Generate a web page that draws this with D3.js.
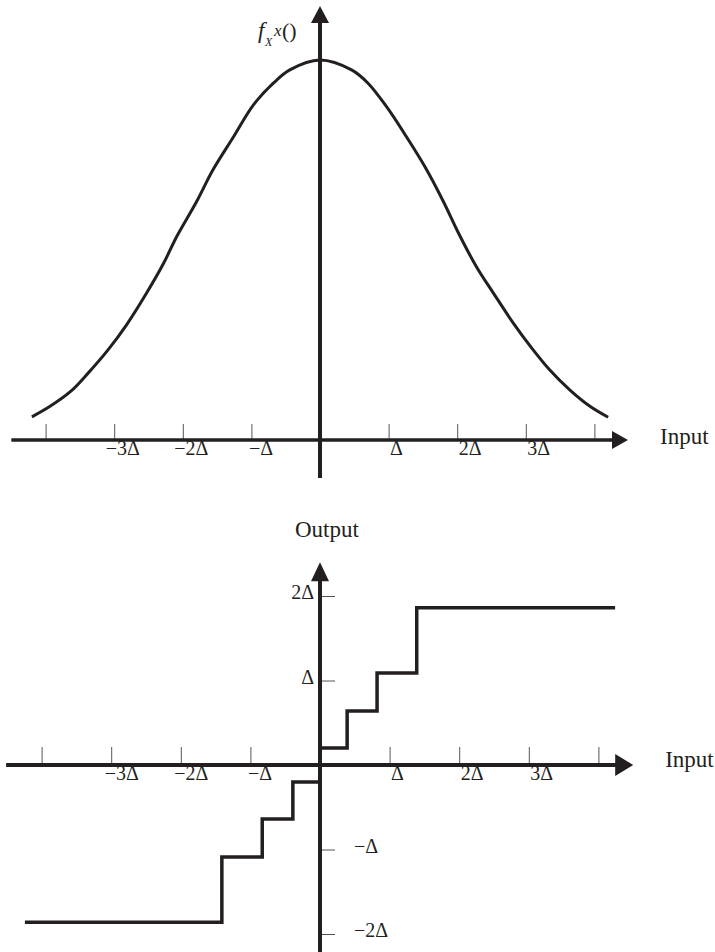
<!DOCTYPE html>
<html>
<head>
<meta charset="utf-8">
<script src="https://cdn.jsdelivr.net/npm/d3@7"></script>
<style>
  html, body { margin: 0; padding: 0; background: #fff; }
  svg { display: block; }
  text { font-family: "Liberation Serif", "Times New Roman", serif; fill: #231f20; }
</style>
</head>
<body>
<svg id="chart" width="715" height="952"></svg>
<script>
// ---------- data ----------
// Top panel: probability density f_X(x), input in units of Delta
const pdfX = [-4.20, -3.94, -3.64, -3.38, -3.09, -2.82, -2.53, -2.28, -2.09, -1.80, -1.56, -1.26, -0.97, -0.68, -0.44, 0,
              0.46, 0.70, 0.97, 1.26, 1.53, 1.80, 2.02, 2.28, 2.53, 2.82, 3.09, 3.35, 3.64, 3.94, 4.20];
const pdfY = [0.061, 0.088, 0.127, 0.176, 0.237, 0.303, 0.386, 0.465, 0.535, 0.627, 0.711, 0.798, 0.882, 0.939, 0.974, 1.000,
              0.974, 0.939, 0.877, 0.798, 0.719, 0.627, 0.544, 0.456, 0.386, 0.307, 0.241, 0.184, 0.132, 0.088, 0.060];

// Bottom panel: quantizer staircase (input breakpoints and output levels, in Delta)
const stepInput  = [-4.24, -1.41, -0.83, -0.39, 0, 0.39, 0.82, 1.39, 4.24];
const stepOutput = [-1.86, -1.09, -0.64, -0.20, 0.20, 0.64, 1.09, 1.86, 1.86];

// Tick values and labels
const xTickValues = [-4, -3, -2, -1, 0, 1, 2, 3, 4];
const xTickLabels = ["", "\u22123\u0394", "\u22122\u0394", "\u2212\u0394", "", "\u0394", "2\u0394", "3\u0394", ""];
const yTickValues = [-2, -1, 1, 2];
const yTickLabels = ["\u22122\u0394", "\u2212\u0394", "\u0394", "2\u0394"];

const inputLabel = "Input";
const outputLabel = "Output";

// Axis extents (data units)
const topXExtent = [-4.5, 4.49];
const topYExtent = [-0.1, 1.142];
const botXExtent = [-4.51, 4.5];
const botYExtent = [-2.25, 2.4];

// ---------- drawing ----------
const ink = "#231f20";
const svg = d3.select("#chart");

function arrow(g, tip, dir, len, half) {
  let pts;
  if (dir === "right") pts = [[tip[0], tip[1]], [tip[0] - len, tip[1] - half], [tip[0] - len, tip[1] + half]];
  else pts = [[tip[0], tip[1]], [tip[0] - half, tip[1] + len], [tip[0] + half, tip[1] + len]];
  g.append("path").attr("d", "M" + pts.map(p => p.join(",")).join("L") + "Z").attr("fill", ink);
}

function labelDx(lab, negOffset) {
  if (lab.startsWith("\u2212\u0394")) return -3;
  if (lab.startsWith("\u2212")) return negOffset;
  return 1;
}

// ===== Top panel =====
const x1 = d3.scaleLinear().domain([-4, 4]).range([45.6, 594.4]);
const y1 = d3.scaleLinear().domain([0, 1]).range([440, 60]);
const gTop = svg.append("g");

const ax1 = gTop.append("g").attr("transform", `translate(0,${y1(0)})`)
  .call(d3.axisBottom(x1).tickValues(xTickValues).tickSize(-16).tickPadding(4)
    .tickFormat((d, i) => xTickLabels[i]));
ax1.select(".domain").remove();
ax1.selectAll(".tick line").attr("stroke", "#555").attr("stroke-width", 1);
ax1.selectAll(".tick text").attr("font-size", 20).attr("fill", ink)
  .attr("font-family", "Liberation Serif, serif")
  .attr("text-anchor", "start")
  .attr("dx", (d, i) => labelDx(xTickLabels[i], -9))
  .attr("y", 1);

gTop.append("line").attr("x1", x1(topXExtent[0])).attr("x2", x1(topXExtent[1]) - 10)
  .attr("y1", y1(0)).attr("y2", y1(0)).attr("stroke", ink).attr("stroke-width", 3.5);
arrow(gTop, [x1(topXExtent[1]), y1(0)], "right", 16, 9);
gTop.append("line").attr("x1", x1(0)).attr("x2", x1(0))
  .attr("y1", y1(topYExtent[0])).attr("y2", y1(topYExtent[1]) + 10)
  .attr("stroke", ink).attr("stroke-width", 4);
arrow(gTop, [x1(0), y1(topYExtent[1])], "up", 17, 9);

const pdfData = pdfX.map((v, i) => [v, pdfY[i]]);
gTop.append("path").datum(pdfData)
  .attr("d", d3.line().x(d => x1(d[0])).y(d => y1(d[1])).curve(d3.curveCatmullRom))
  .attr("fill", "none").attr("stroke", ink).attr("stroke-width", 3);

gTop.append("text").attr("x", x1(topXExtent[1]) + 32).attr("y", y1(0) + 4)
  .attr("font-size", 23).text(inputLabel);
const fl = gTop.append("text").attr("font-size", 23);
fl.append("tspan").attr("x", 258).attr("y", 38).attr("font-style", "italic").text("f");
fl.append("tspan").attr("x", 265).attr("y", 46).attr("font-size", 12).attr("font-style", "italic").text("X");
fl.append("tspan").attr("x", 274).attr("y", 36).attr("font-size", 17).attr("font-style", "italic").text("x");
fl.append("tspan").attr("x", 282).attr("y", 38).attr("font-size", 22).text("()");

// ===== Bottom panel =====
const x2 = d3.scaleLinear().domain([-4, 4]).range([41.6, 598.4]);
const y2 = d3.scaleLinear().domain([-2, 2]).range([934, 596]);
const gBot = svg.append("g");

const ax2 = gBot.append("g").attr("transform", `translate(0,${y2(0)})`)
  .call(d3.axisBottom(x2).tickValues(xTickValues).tickSize(-18).tickPadding(4)
    .tickFormat((d, i) => xTickLabels[i]));
ax2.select(".domain").remove();
ax2.selectAll(".tick line").attr("stroke", "#555").attr("stroke-width", 1);
ax2.selectAll(".tick text").attr("font-size", 20).attr("fill", ink)
  .attr("font-family", "Liberation Serif, serif")
  .attr("text-anchor", "start")
  .attr("dx", (d, i) => labelDx(xTickLabels[i], -7))
  .attr("y", 1);

const ay2 = gBot.append("g").attr("transform", `translate(${x2(0)},0)`)
  .call(d3.axisRight(y2).tickValues(yTickValues).tickSize(15).tickFormat(""));
ay2.select(".domain").remove();
ay2.selectAll(".tick line").attr("stroke", "#555").attr("stroke-width", 1);
gBot.selectAll("text.ylab").data(yTickValues).enter().append("text")
  .attr("class", "ylab")
  .attr("x", d => d > 0 ? x2(0) - 6 : x2(0) + 34)
  .attr("y", d => y2(d) + 3)
  .attr("text-anchor", d => d > 0 ? "end" : "start")
  .attr("font-size", 20)
  .text((d, i) => yTickLabels[i]);

const stepData = stepInput.map((v, i) => [v, stepOutput[i]]);
gBot.append("path").datum(stepData)
  .attr("d", d3.line().x(d => x2(d[0])).y(d => y2(d[1])).curve(d3.curveStepAfter))
  .attr("fill", "none").attr("stroke", ink).attr("stroke-width", 3.5)
  .attr("stroke-linejoin", "miter");

gBot.append("line").attr("x1", x2(botXExtent[0])).attr("x2", x2(botXExtent[1]) - 10)
  .attr("y1", y2(0)).attr("y2", y2(0)).attr("stroke", ink).attr("stroke-width", 4);
arrow(gBot, [x2(botXExtent[1]), y2(0)], "right", 18, 11);
gBot.append("line").attr("x1", x2(0)).attr("x2", x2(0))
  .attr("y1", y2(botYExtent[0])).attr("y2", y2(botYExtent[1]) + 10)
  .attr("stroke", ink).attr("stroke-width", 4);
arrow(gBot, [x2(0), y2(botYExtent[1])], "up", 19, 9);

gBot.append("text").attr("x", x2(botXExtent[1]) + 32).attr("y", y2(0) + 2)
  .attr("font-size", 23).text(inputLabel);
gBot.append("text").attr("x", 295).attr("y", 537)
  .attr("font-size", 23).text(outputLabel);
</script>
</body>
</html>
